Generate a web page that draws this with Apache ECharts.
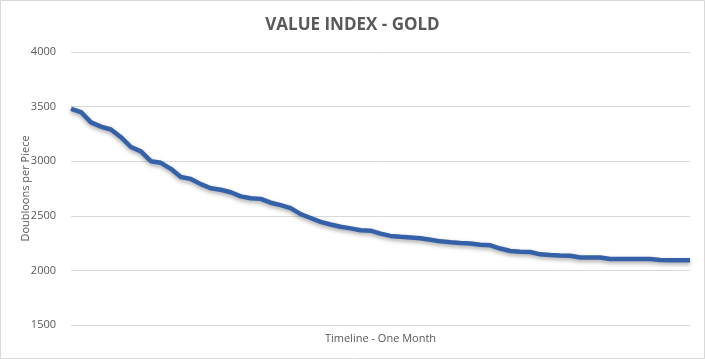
<!DOCTYPE html>
<html>
<head>
<meta charset="utf-8">
<script src="https://cdn.jsdelivr.net/npm/echarts@6/dist/echarts.min.js"></script>
<style>
html,body{margin:0;padding:0;background:#fff;}
#chart{width:705px;height:359px;}
</style>
</head>
<body>
<div id="chart"></div>
<script>
const titleText = "VALUE INDEX - GOLD";
const yAxisName = "Doubloons per Piece";
const xAxisName = "Timeline - One Month";
const yTicks = [1500, 2000, 2500, 3000, 3500, 4000];
const values = [
  3480, 3450, 3355, 3316, 3290, 3220, 3130, 3090, 3000, 2985,
  2930, 2855, 2838, 2790, 2752, 2738, 2716, 2678, 2660, 2655,
  2620, 2598, 2570, 2515, 2480, 2444, 2420, 2400, 2385, 2368,
  2364, 2337, 2316, 2308, 2302, 2294, 2280, 2266, 2258, 2252,
  2247, 2235, 2230, 2200, 2178, 2171, 2168, 2147, 2141, 2137,
  2134, 2119, 2119, 2119, 2104, 2104, 2104, 2104, 2104, 2096,
  2092, 2092, 2092
];
const categories = values.map((v, i) => String(i + 1));

const chart = echarts.init(document.getElementById('chart'), null, {renderer: 'canvas'});
chart.setOption({
  animation: false,
  backgroundColor: '#ffffff',
  graphic: [{
    type: 'rect',
    shape: {x: 0.5, y: 0.5, width: 704, height: 358},
    style: {fill: 'none', stroke: '#d9d9d9', lineWidth: 1},
    silent: true
  }],
  title: {
    text: titleText,
    left: 'center',
    top: 12,
    textStyle: {
      fontFamily: 'Open Sans',
      fontWeight: 'bold',
      fontSize: 17,
      color: '#595959'
    }
  },
  grid: {left: 71, right: 15, top: 52, bottom: 34, containLabel: false},
  xAxis: {
    type: 'category',
    data: categories,
    boundaryGap: false,
    name: xAxisName,
    nameLocation: 'middle',
    nameGap: 8,
    nameTextStyle: {fontFamily: 'Open Sans', fontSize: 11, color: '#595959'},
    axisLine: {show: false},
    axisTick: {show: false},
    axisLabel: {show: false},
    splitLine: {show: false}
  },
  yAxis: {
    type: 'value',
    min: yTicks[0],
    max: yTicks[yTicks.length - 1],
    interval: 500,
    name: yAxisName,
    nameLocation: 'middle',
    nameGap: 40,
    nameMoveOverlap: false,
    nameTextStyle: {fontFamily: 'Open Sans', fontSize: 11, color: '#595959'},
    axisLine: {show: false},
    axisTick: {show: false},
    axisLabel: {fontFamily: 'Open Sans', fontSize: 11, color: '#595959', margin: 15,
      formatter: v => String(v)},
    splitLine: {lineStyle: {color: '#d9d9d9', width: 1}}
  },
  series: [{
    type: 'line',
    data: values,
    showSymbol: false,
    symbol: 'none',
    lineStyle: {
      color: '#3461a8',
      width: 4.5,
      shadowColor: 'rgba(0,0,0,0.35)',
      shadowBlur: 4,
      shadowOffsetY: 2
    }
  }]
});
</script>
</body>
</html>
